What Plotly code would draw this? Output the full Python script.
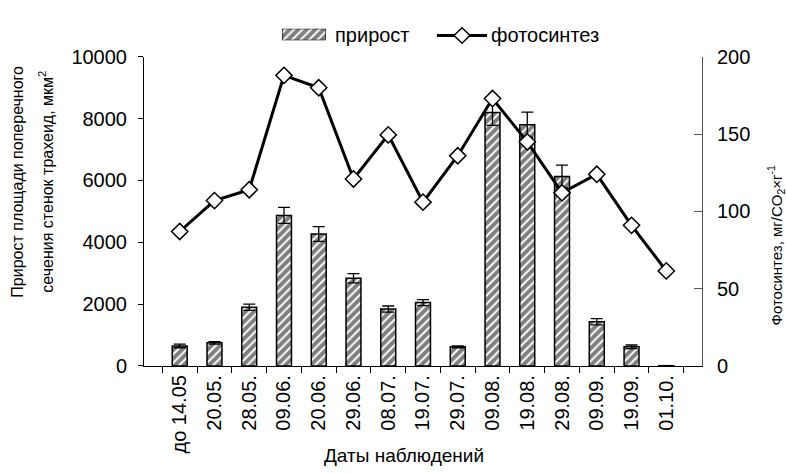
import plotly.graph_objects as go

# Observation dates
dates = ["до 14.05", "20.05.", "28.05.", "09.06.", "20.06.", "29.06.", "08.07.",
         "19.07.", "29.07.", "09.08.", "19.08.", "29.08.", "09.09.", "19.09.", "01.10."]

# Increment of tracheid wall cross-section area, µm² (with error)
growth = [650, 750, 1900, 4870, 4270, 2840, 1840, 2050, 620, 8200, 7800, 6130, 1430, 620, 10]
growth_err = [60, 40, 100, 260, 240, 150, 100, 100, 30, 420, 410, 370, 100, 60, 0]

# Photosynthesis, mg CO2 per g
photo = [87, 107, 114, 188, 180, 121, 149.5, 106, 136, 173, 145, 112, 124, 91, 61.5]

FONT = "Liberation Sans, Arial, sans-serif"
HATCH = dict(shape="/", fgcolor="#000000", bgcolor="#ffffff", size=6, solidity=0.68)

# Page geometry (pixels)
W, H = 786, 473
L, R, T, B = 144, 84, 10, 106.5
PLOT_TOP = 47
pw, ph = W - L - R, H - T - B


def px_x(p):
    return (p - L) / pw


def px_y(p):
    return (H - B - p) / ph


fig = go.Figure()

fig.add_trace(go.Bar(
    x=dates, y=growth, name="прирост", showlegend=False,
    marker=dict(color="white", line=dict(color="black", width=1.5), pattern=HATCH),
    error_y=dict(type="data", array=growth_err, visible=True, color="black",
                 thickness=1.3, width=6),
))

fig.add_trace(go.Scatter(
    x=dates, y=photo, name="фотосинтез", yaxis="y2", mode="lines+markers", showlegend=False,
    line=dict(color="black", width=3),
    marker=dict(symbol="diamond", size=12.5, color="white",
                line=dict(color="black", width=1.5)),
))

# Legend key for the hatched bars, drawn on a small auxiliary axis
fig.add_trace(go.Bar(
    x=[0], y=[1], width=[1], xaxis="x3", yaxis="y3", showlegend=False, hoverinfo="skip",
    marker=dict(color="white", line=dict(color="black", width=1.2), pattern=HATCH),
))

main_top = px_y(PLOT_TOP)

fig.update_layout(
    width=W, height=H,
    margin=dict(l=L, r=R, t=T, b=B, pad=0),
    paper_bgcolor="white", plot_bgcolor="white",
    font=dict(family=FONT, size=20, color="black"),
    bargap=0.57,
    showlegend=False,
    xaxis=dict(
        type="category", tickangle=-90, showline=True, linecolor="black", linewidth=1.2,
        ticks="outside", tickson="boundaries", ticklen=6, tickcolor="black",
        showgrid=False, tickfont=dict(size=20),
    ),
    yaxis=dict(
        domain=[0, main_top],
        range=[0, 10000], dtick=2000, tickformat="d", showline=True, linecolor="black",
        linewidth=1, ticks="outside", ticklen=5, tickcolor="black", showgrid=False,
        zeroline=False, tickfont=dict(size=20), ticklabelstandoff=7,
    ),
    yaxis2=dict(
        range=[0, 200], dtick=50, overlaying="y", side="right", showline=True,
        linecolor="#555", linewidth=1, ticks="inside", ticklen=8, tickcolor="#555",
        showgrid=False, zeroline=False, tickfont=dict(size=20), ticklabelstandoff=10,
    ),
    xaxis3=dict(domain=[px_x(282), px_x(326)], range=[-0.5, 0.5], anchor="y3",
                visible=False, fixedrange=True),
    yaxis3=dict(domain=[px_y(30), px_y(18)], range=[0, 1], anchor="x3",
                visible=False, fixedrange=True),
)

# Legend key for the photosynthesis line
ly, lcx, half = 25, 462, 8
fig.add_shape(type="line", xref="paper", yref="paper",
              x0=px_x(437), x1=px_x(487), y0=px_y(ly), y1=px_y(ly),
              line=dict(color="black", width=3))
fig.add_shape(type="path", xref="paper", yref="paper",
              path=(f"M {px_x(lcx - half)} {px_y(ly)} L {px_x(lcx)} {px_y(ly - half)} "
                    f"L {px_x(lcx + half)} {px_y(ly)} L {px_x(lcx)} {px_y(ly + half)} Z"),
              fillcolor="white", line=dict(color="black", width=1.5))

ann = dict(xref="paper", yref="paper", showarrow=False)
fig.add_annotation(text="прирост", x=px_x(333), y=px_y(24), xanchor="left", yanchor="middle",
                   font=dict(family=FONT, size=20), **ann)
fig.add_annotation(text="фотосинтез", x=px_x(489), y=px_y(24), xanchor="left", yanchor="middle",
                   font=dict(family=FONT, size=20), **ann)

# Axis titles
tfont = dict(family=FONT, size=16)
fig.add_annotation(text="Прирост площади поперечного", x=px_x(18), y=px_y(176),
                   xanchor="center", yanchor="middle", textangle=-90, font=tfont, **ann)
fig.add_annotation(text="сечения стенок трахеид, мкм<sup>2</sup>", x=px_x(46), y=px_y(176),
                   xanchor="center", yanchor="middle", textangle=-90, font=tfont, **ann)
fig.add_annotation(text="Фотосинтез, мг/CO<sub>2</sub>×г<sup>-1</sup>", x=px_x(776), y=px_y(242),
                   xanchor="center", yanchor="middle", textangle=-90,
                   font=dict(family=FONT, size=15), **ann)
fig.add_annotation(text="Даты наблюдений", x=px_x(404), y=px_y(459),
                   xanchor="center", yanchor="middle", font=dict(family=FONT, size=19), **ann)

fig.write_html("out.html")
